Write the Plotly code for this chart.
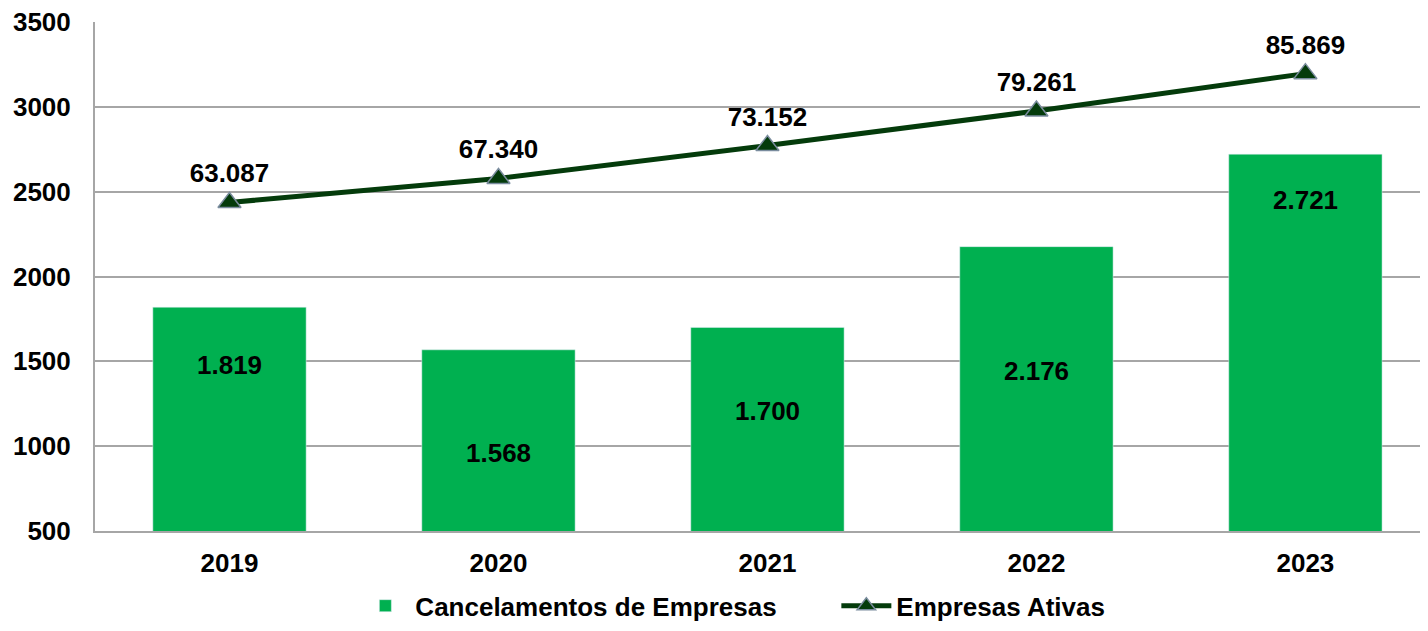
import plotly.graph_objects as go

years = ["2019", "2020", "2021", "2022", "2023"]
cancelamentos = [1819, 1568, 1700, 2176, 2721]
empresas_ativas = [63087, 67340, 73152, 79261, 85869]
# where the bar labels sit in the reference (left-axis units)
bar_label_y = [1477, 960, 1207, 1443, 2450]


def br(n):
    """Format with a dot as thousands separator"""
    return f"{n:,}".replace(",", ".")


FONT = "Liberation Sans, Arial, sans-serif"
BAR_GREEN = "#00B050"
LINE_GREEN = "#043B0B"
GRID = "#A6A6A6"
FS = 26

fig = go.Figure()

fig.add_trace(go.Bar(
    x=years,
    y=cancelamentos,
    name="Cancelamentos de Empresas",
    marker_color=BAR_GREEN,
    width=0.57,
    hoverinfo="y",
))

fig.add_trace(go.Scatter(
    x=years,
    y=empresas_ativas,
    name="Empresas Ativas",
    yaxis="y2",
    mode="lines+markers+text",
    line=dict(color=LINE_GREEN, width=5),
    marker=dict(symbol="triangle-up", size=20, color=LINE_GREEN,
                line=dict(color="#7A8C9E", width=1.5)),
    text=[br(v) for v in empresas_ativas],
    textposition="top center",
    textfont=dict(family=FONT, size=FS, color="black", weight="bold"),
    cliponaxis=False,
))

# bar value labels
for i, (v, ly) in enumerate(zip(cancelamentos, bar_label_y)):
    fig.add_annotation(
        x=i, y=ly, xref="x", yref="y",
        text=f"<b>{br(v)}</b>", showarrow=False,
        font=dict(family=FONT, size=FS, color="black"),
    )

# page body has an 8px margin -> keep the figure 16px smaller than the window
fig.update_layout(
    width=1412,
    height=615,
    margin=dict(l=87, r=0, t=14, b=92),
    plot_bgcolor="white",
    paper_bgcolor="white",
    font=dict(family=FONT, size=FS, color="black", weight="bold"),
    showlegend=True,
    legend=dict(
        orientation="h",
        xref="container", yref="container",
        x=0.246, xanchor="left",
        y=0.028, yanchor="middle",
        font=dict(family=FONT, size=FS, color="black", weight="bold"),
        itemwidth=50,
        entrywidth=416,
        entrywidthmode="pixels",
    ),
    xaxis=dict(
        type="category",
        range=[-0.5, 4.426],
        showgrid=False,
        showline=True,
        linecolor=GRID,
        linewidth=2,
        ticks="outside",
        ticklen=8,
        tickcolor="rgba(0,0,0,0)",
        tickfont=dict(family=FONT, size=FS, color="black", weight="bold"),
    ),
    yaxis=dict(
        range=[500, 3500],
        dtick=500,
        showgrid=True,
        gridcolor=GRID,
        gridwidth=1.5,
        showline=True,
        linecolor=GRID,
        linewidth=2,
        zeroline=False,
        ticks="outside",
        ticklen=17,
        tickcolor="rgba(0,0,0,0)",
        ticklabeloverflow="allow",
        tickfont=dict(family=FONT, size=FS, color="black", weight="bold"),
    ),
    yaxis2=dict(
        range=[5000, 95000],
        overlaying="y",
        side="right",
        visible=False,
        showgrid=False,
    ),
)

fig.write_html("out.html")
